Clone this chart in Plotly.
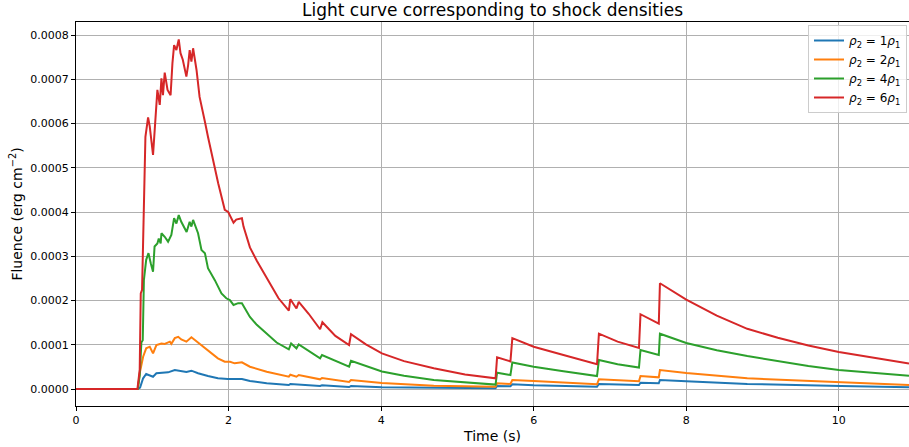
import plotly.graph_objects as go

# ---------------- data ----------------
t_red = [0, 0.805, 0.835, 0.849, 0.866, 0.88, 0.91, 0.945, 0.967, 1.01, 1.03, 1.067, 1.098, 1.12,
         1.14, 1.163, 1.2, 1.24, 1.264, 1.286, 1.316, 1.347, 1.37, 1.40, 1.447, 1.47, 1.49, 1.513,
         1.535, 1.58, 1.62, 1.667, 1.69, 1.73, 1.775, 1.82, 1.864, 1.907, 1.95, 1.995, 2.02, 2.065,
         2.10, 2.175, 2.196, 2.28, 2.37, 2.50, 2.655, 2.79, 2.81, 2.89, 2.92, 3.05, 3.20, 3.23, 3.40,
         3.58, 3.605, 3.80, 4.01, 4.30, 4.69, 5.10, 5.50, 5.52, 5.695, 5.72, 6.00, 6.39, 6.83, 6.855,
         7.10, 7.38, 7.40, 7.64, 7.655, 8.00, 8.40, 8.80, 9.20, 9.60, 10.00, 10.50, 10.92]
f_red = [0, 0, 0.000043, 0.000216, 0.000224, 0.00035, 0.00057, 0.000614, 0.000593, 0.000529,
         0.000585, 0.000676, 0.000642, 0.000702, 0.000664, 0.000715, 0.000676, 0.000664, 0.000736,
         0.000777, 0.000766, 0.00079, 0.000759, 0.000744, 0.000706, 0.000732, 0.000766, 0.00074,
         0.00077, 0.000721, 0.00066, 0.000627, 0.000604, 0.00057, 0.000533, 0.000502, 0.000465,
         0.000435, 0.000405, 0.0004, 0.000392, 0.000376, 0.000383, 0.000386, 0.000367, 0.000320,
         0.000290, 0.000252, 0.000205, 0.000177, 0.000203, 0.000182, 0.000197, 0.000170, 0.000135,
         0.000151, 0.000120, 0.0000994, 0.000124, 0.000101, 0.0000805, 0.000063, 0.0000467,
         0.000033, 0.0000242, 0.0000716, 0.0000625, 0.000115, 0.0000956, 0.0000768, 0.0000558,
         0.000125, 0.000107, 0.0000928, 0.000169, 0.000148, 0.000239, 0.000202, 0.000166, 0.000136,
         0.000116, 0.0000985, 0.0000838, 0.0000695, 0.0000575]

t_green = [0, 0.81, 0.835, 0.857, 0.875, 0.89, 0.92, 0.95, 0.98, 1.01, 1.03, 1.067, 1.085, 1.11,
           1.12, 1.163, 1.207, 1.25, 1.286, 1.316, 1.347, 1.38, 1.45, 1.49, 1.513, 1.535, 1.60,
           1.645, 1.69, 1.73, 1.82, 1.907, 1.97, 2.017, 2.065, 2.126, 2.175, 2.28, 2.37, 2.50, 2.63,
           2.79, 2.82, 2.89, 2.92, 3.20, 3.225, 3.58, 3.605, 4.01, 4.30, 4.69, 5.10, 5.50, 5.52,
           5.695, 5.72, 6.00, 6.39, 6.83, 6.855, 7.10, 7.38, 7.40, 7.64, 7.655, 8.00, 8.40, 8.80,
           9.20, 9.60, 10.00, 10.50, 10.92]
f_green = [0, 0, 0.00003, 0.000105, 0.00011, 0.000246, 0.000292, 0.000307, 0.000284, 0.000265,
           0.000322, 0.000329, 0.00034, 0.000329, 0.000352, 0.000344, 0.000333, 0.000348, 0.000386,
           0.000374, 0.000393, 0.000378, 0.000355, 0.000378, 0.000367, 0.000382, 0.000352, 0.000314,
           0.000307, 0.000273, 0.000246, 0.000216, 0.000205, 0.000201, 0.00019, 0.000194, 0.000194,
           0.000163, 0.000145, 0.000126, 0.000105, 0.0000897, 0.000103, 0.000092, 0.000101,
           0.0000694, 0.0000768, 0.0000504, 0.000064, 0.0000395, 0.000030, 0.0000203, 0.000015,
           0.000010, 0.0000368, 0.0000316, 0.00006, 0.0000504, 0.000040, 0.0000294, 0.0000655,
           0.000056, 0.0000485, 0.0000881, 0.0000768, 0.000125, 0.000104, 0.0000875, 0.0000746,
           0.000064, 0.000052, 0.0000432, 0.0000355, 0.0000297]

t_orange = [0, 0.81, 0.835, 0.88, 0.92, 0.967, 1.01, 1.054, 1.12, 1.163, 1.23, 1.25, 1.295, 1.34,
            1.38, 1.447, 1.513, 1.557, 1.62, 1.69, 1.775, 1.86, 1.95, 2.02, 2.08, 2.175, 2.28, 2.50,
            2.79, 2.81, 2.89, 2.92, 3.20, 3.225, 3.58, 3.605, 4.01, 4.69, 5.50, 5.52, 5.695, 5.72,
            6.00, 6.83, 6.855, 7.38, 7.40, 7.64, 7.655, 8.00, 8.80, 9.60, 10.03, 10.92]
f_orange = [0, 0, 0.0000355, 0.000073, 0.000092, 0.0000956, 0.0000806, 0.0000994, 0.000103,
            0.000102, 0.000107, 0.000102, 0.000115, 0.000118, 0.000112, 0.000107, 0.000117,
            0.000111, 0.000103, 0.000092, 0.0000806, 0.0000694, 0.0000617, 0.0000617, 0.000058,
            0.0000603, 0.0000504, 0.000039, 0.0000278, 0.0000323, 0.0000278, 0.0000316, 0.0000219,
            0.0000249, 0.0000158, 0.0000203, 0.0000135, 0.0000075, 0.000005, 0.0000129, 0.0000115,
            0.0000203, 0.000018, 0.0000106, 0.0000219, 0.0000175, 0.0000294, 0.0000264, 0.0000429,
            0.0000360, 0.0000242, 0.000018, 0.0000142, 0.000009]

t_blue = [0, 0.81, 0.84, 0.88, 0.92, 0.967, 1.01, 1.054, 1.12, 1.207, 1.295, 1.34, 1.447, 1.513,
          1.60, 1.73, 1.86, 1.99, 2.08, 2.175, 2.28, 2.50, 2.79, 2.81, 3.20, 3.225, 3.58, 3.605,
          4.01, 4.69, 5.50, 5.52, 5.695, 5.72, 6.00, 6.83, 6.855, 7.38, 7.40, 7.64, 7.655, 8.00,
          8.80, 10.03, 10.92]
f_blue = [0, 0, 0.000003, 0.0000242, 0.0000339, 0.0000316, 0.0000278, 0.0000355, 0.0000368,
          0.0000377, 0.0000429, 0.0000414, 0.0000384, 0.0000414, 0.0000355, 0.0000294, 0.0000242,
          0.0000226, 0.0000219, 0.0000226, 0.000018, 0.0000129, 0.000009, 0.0000113, 0.0000068,
          0.0000083, 0.0000045, 0.0000068, 0.0000038, 0.0000025, 0.0000015, 0.0000068, 0.0000062,
          0.0000106, 0.0000083, 0.0000053, 0.0000113, 0.000009, 0.0000142, 0.0000129, 0.0000203,
          0.0000175, 0.0000113, 0.0000068, 0.0000038]

series_names = ["<i>ρ</i><sub>2</sub> = 1<i>ρ</i><sub>1</sub>",
                "<i>ρ</i><sub>2</sub> = 2<i>ρ</i><sub>1</sub>",
                "<i>ρ</i><sub>2</sub> = 4<i>ρ</i><sub>1</sub>",
                "<i>ρ</i><sub>2</sub> = 6<i>ρ</i><sub>1</sub>"]
series_colors = ["#1f77b4", "#ff7f0e", "#2ca02c", "#d62728"]
x_ticks = [0, 2, 4, 6, 8, 10]
y_ticks = [0, 0.0001, 0.0002, 0.0003, 0.0004, 0.0005, 0.0006, 0.0007, 0.0008]

# ---------------- figure ----------------
fig = go.Figure()
for tt, ff, name, col in zip([t_blue, t_orange, t_green, t_red],
                             [f_blue, f_orange, f_green, f_red],
                             series_names, series_colors):
    fig.add_trace(go.Scatter(x=tt, y=ff, mode="lines", name=name,
                             line=dict(color=col, width=2)))

W, H = 909, 447
L, R, T, B = 76, 0, 22, 41
fig.update_layout(
    width=W, height=H,
    margin=dict(l=L, r=R, t=T, b=B, pad=0, autoexpand=False),
    paper_bgcolor="white", plot_bgcolor="white",
    font=dict(family="DejaVu Sans", color="black"),
    title=dict(text="Light curve corresponding to shock densities",
               x=0.5, xref="paper", xanchor="center",
               y=1 - 4 / H, yref="container", yanchor="top",
               pad=dict(t=0, b=0, l=0, r=0),
               font=dict(size=17, family="DejaVu Sans", color="black")),
    showlegend=True,
    legend=dict(x=(907 - L) / (W - L - R), y=(H - B - 25) / (H - T - B),
                xanchor="right", yanchor="top",
                bgcolor="rgba(255,255,255,0.8)", bordercolor="#cccccc", borderwidth=1,
                font=dict(size=12, family="DejaVu Sans", color="black"),
                itemwidth=30, tracegroupgap=0),
)
fig.update_xaxes(range=[0, 10.92], tickvals=x_ticks, ticktext=[str(v) for v in x_ticks],
                 automargin=False,
                 showgrid=True, gridcolor="#b0b0b0", gridwidth=1, zeroline=False,
                 showline=True, linecolor="black", linewidth=1, mirror=True,
                 ticks="outside", ticklen=4, tickwidth=1, tickcolor="black",
                 tickfont=dict(size=11, family="DejaVu Sans"),
                 title=dict(text="Time (s)", font=dict(size=14, family="DejaVu Sans"), standoff=4))
fig.update_yaxes(range=[-0.0000384, 0.0008294], tickvals=y_ticks,
                 ticktext=[f"{v:.4f}" for v in y_ticks],
                 automargin=False,
                 showgrid=True, gridcolor="#b0b0b0", gridwidth=1, zeroline=False,
                 showline=True, linecolor="black", linewidth=1, mirror=True,
                 ticks="outside", ticklen=4, tickwidth=1, tickcolor="black",
                 tickfont=dict(size=11, family="DejaVu Sans"),
                 title=dict(text="Fluence (erg cm<sup>−2</sup>)",
                            font=dict(size=14, family="DejaVu Sans"), standoff=4))

fig.write_html("out.html", config={"displayModeBar": False},
               post_script="document.body.style.margin='0';document.body.style.overflow='hidden';")
